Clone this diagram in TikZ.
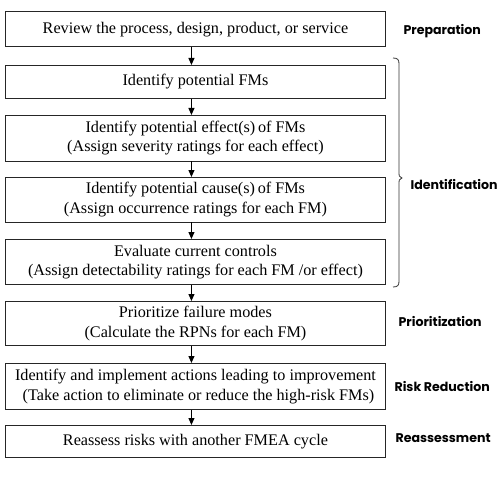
\documentclass[tikz,border=0pt]{standalone}
\usepackage{fontspec}
\setmainfont{Liberation Serif}
\newfontfamily\labfont{Poppins}
\usetikzlibrary{arrows.meta,calc}
\tikzset{
  stepbox/.style={draw=black!85, line width=0.9pt, minimum width=380pt, inner sep=0pt, align=center,
     font=\fontsize{16.2}{19.5}\selectfont, anchor=north west},
  flow/.style={line width=1pt, -{Triangle[length=7pt,width=6pt]}},
  phase/.style={font=\labfont\bfseries\fontsize{12.6}{14}\selectfont, anchor=west},
}
\begin{document}
\begin{tikzpicture}[x=1pt,y=-1pt]
\useasboundingbox (0,0) rectangle (500,500);
\node[stepbox, minimum height=35.5pt] (b1) at (5,11) {Review the process, design, product, or service};
\node[stepbox, minimum height=33pt] (b2) at (5,65) {Identify potential FMs};
\node[stepbox, minimum height=45.5pt] (b3) at (5,115) {Identify potential effect(s)\,of FMs\\(Assign severity ratings for each effect)};
\node[stepbox, minimum height=44.5pt] (b4) at (5,177) {Identify potential cause(s)\,of FMs\\(Assign occurrence ratings for each FM)};
\node[stepbox, minimum height=45pt] (b5) at (5,239) {Evaluate current controls\\(Assign detectability ratings for each FM /or effect)};
\node[stepbox, minimum height=44pt] (b6) at (5,301) {Prioritize failure modes\\(Calculate the RPNs for each FM)};
\node[stepbox, minimum height=46pt] (b7) at (5,363) {Identify and implement actions leading to improvement\\\hspace*{6pt}(Take action to eliminate or reduce the high-risk FMs)};
\node[stepbox, minimum height=31.5pt] (b8) at (5,425) {Reassess risks with another FMEA cycle};
\foreach \a/\b in {b1/b2,b2/b3,b3/b4,b4/b5,b5/b6,b6/b7,b7/b8}
  \draw[flow] ($(\a.south)+(-4,0)$) -- ($(\b.north)+(-4,0)$);
\coordinate (bt) at (393,58);
\coordinate (bb) at (393,287);
\coordinate (btip) at (402,178);
\draw[line width=0.8pt, black!80] (bt) .. controls (398,58) and (399,60) .. (399,64) -- (399,174)
  .. controls (399,176) .. (btip) .. controls (399,180) .. (399,182) -- (399,281)
  .. controls (399,285) and (398,287) .. (bb);
\node[phase] (p1) at (400,31) {Preparation};
\node[phase] (p2) at (407,185) {Identification};
\node[phase] (p3) at (395,322) {Prioritization};
\node[phase] (p4) at (391,386) {Risk Reduction};
\node[phase] (p5) at (392,438) {Reassessment};
\end{tikzpicture}
\end{document}
